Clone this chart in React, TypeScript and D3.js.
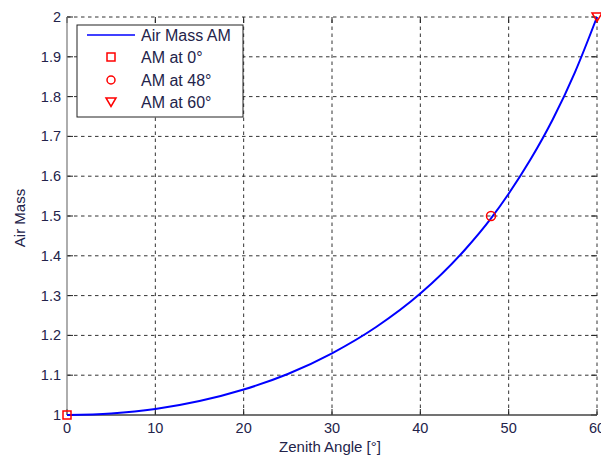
import React from 'react';
import * as d3 from 'd3';

// zenith angle (deg) vs air mass
const angles = [0, 5, 10, 15, 20, 25, 30, 35, 40, 45, 48, 50, 52.5, 55, 57.5, 60];
const airMass = [1.0, 1.004, 1.015, 1.035, 1.064, 1.103, 1.155, 1.221, 1.305, 1.414, 1.494, 1.556, 1.643, 1.743, 1.861, 2.0];

const xTicks = [0, 10, 20, 30, 40, 50, 60];
const yTicks = [1, 1.1, 1.2, 1.3, 1.4, 1.5, 1.6, 1.7, 1.8, 1.9, 2];

const markerAngles = [0, 48, 60];
const markerValues = [1, 1.5, 2];
const legendLabels = ['Air Mass AM', 'AM at 0°', 'AM at 48°', 'AM at 60°'];

const W = 601;
const H = 459;
const left = 67, right = 597, top = 17, bottom = 415;
const textColor = '#23234a';
const gridColor = '#333';
const font = '"Liberation Sans", Arial, sans-serif';

export default function App() {
    const x = d3.scaleLinear().domain([0, 60]).range([left, right]);
    const y = d3.scaleLinear().domain([1, 2]).range([bottom, top]);

    const pts = angles.map((a, i) => [a, airMass[i]] as [number, number]);
    const line = d3.line<[number, number]>()
        .x(d => x(d[0]))
        .y(d => y(d[1]))
        .curve(d3.curveMonotoneX);

    const tri = (cx: number, cy: number, s: number) =>
        `M${cx - s},${cy - s * 0.8}L${cx + s},${cy - s * 0.8}L${cx},${cy + s * 0.9}Z`;

    // legend layout
    const lg = { x: 77, y: 25, w: 166, h: 92 };
    const rowY = [35, 57, 80, 102];

    return (
        <div style={{ position: 'fixed', left: 0, top: 0 }}>
            <svg width={W} height={H} style={{ display: 'block', background: '#fff' }} fontFamily={font}>
                {/* grid */}
                {xTicks.slice(1).map(t => (
                    <line key={'gx' + t} x1={x(t)} x2={x(t)} y1={bottom} y2={top}
                        stroke={gridColor} strokeWidth={1} strokeDasharray="3.5,3.5" />
                ))}
                {yTicks.slice(1).map(t => (
                    <line key={'gy' + t} x1={left} x2={right} y1={y(t)} y2={y(t)}
                        stroke={gridColor} strokeWidth={1} strokeDasharray="3.5,3.5" />
                ))}

                {/* ticks */}
                {xTicks.map(t => (
                    <g key={'tx' + t}>
                        <line x1={x(t)} x2={x(t)} y1={bottom} y2={bottom - 6} stroke="#222" />
                        <line x1={x(t)} x2={x(t)} y1={top} y2={top + 6} stroke="#222" />
                        <text x={x(t)} y={bottom + 18} textAnchor="middle" fontSize={14.5} fill={textColor}>{t}</text>
                    </g>
                ))}
                {yTicks.map(t => (
                    <g key={'ty' + t}>
                        <line x1={left} x2={left + 6} y1={y(t)} y2={y(t)} stroke="#222" />
                        <line x1={right} x2={right - 6} y1={y(t)} y2={y(t)} stroke="#222" />
                        <text x={left - 6} y={y(t) + 5} textAnchor="end" fontSize={14.5} fill={textColor}>{d3.format('~g')(t)}</text>
                    </g>
                ))}

                {/* axes */}
                <line x1={left} x2={left} y1={top} y2={bottom} stroke="#777" strokeWidth={1.2} />
                <line x1={left} x2={right} y1={bottom} y2={bottom} stroke="#444" strokeWidth={1.5} />

                {/* curve */}
                <path d={line(pts) || ''} fill="none" stroke="#0000ff" strokeWidth={2} />

                {/* markers */}
                <rect x={x(markerAngles[0]) - 4} y={y(markerValues[0]) - 4} width={8} height={8}
                    fill="none" stroke="#ff0000" strokeWidth={1.5} />
                <circle cx={x(markerAngles[1])} cy={y(markerValues[1])} r={4.5}
                    fill="none" stroke="#ff0000" strokeWidth={1.5} />
                <path d={tri(x(markerAngles[2]), y(markerValues[2]), 5)}
                    fill="none" stroke="#ff0000" strokeWidth={1.5} />

                {/* legend */}
                <rect x={lg.x} y={lg.y} width={lg.w} height={lg.h} fill="#fff" stroke="#222" strokeWidth={1} />
                <line x1={87} x2={135} y1={rowY[0]} y2={rowY[0]} stroke="#0000ff" strokeWidth={1.5} />
                <rect x={107} y={rowY[1] - 4} width={8} height={8} fill="none" stroke="#ff0000" strokeWidth={1.5} />
                <circle cx={111} cy={rowY[2]} r={4} fill="none" stroke="#ff0000" strokeWidth={1.5} />
                <path d={tri(111, rowY[3], 5)} fill="none" stroke="#ff0000" strokeWidth={1.5} />
                {legendLabels.map((l, i) => (
                    <text key={l} x={141} y={rowY[i] + 5.5} fontSize={16} fill={textColor}>{l}</text>
                ))}

                {/* axis titles */}
                <text x={330} y={452} textAnchor="middle" fontSize={15} fill={textColor}>Zenith Angle [°]</text>
                <text transform={`translate(25,218) rotate(-90)`} textAnchor="middle"
                    fontSize={15} fill={textColor}>Air Mass</text>
            </svg>
        </div>
    );
}
